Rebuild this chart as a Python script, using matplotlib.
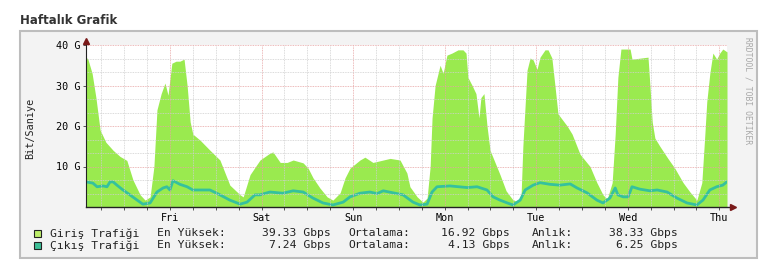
import matplotlib.pyplot as plt
from matplotlib.patches import Rectangle
from matplotlib.ticker import MultipleLocator, FixedLocator

# time axis: hours since start of the weekly window
days = ['Fri', 'Sat', 'Sun', 'Mon', 'Tue', 'Wed', 'Thu']
first_midnight = 22  # hours from start to first day boundary

# Giris (incoming) traffic, Gbps
giris_h = [0, 0.5, 1.6, 2.6, 3.7, 5.2, 7.1, 8.9, 10.7, 12.3, 14.2, 15.5, 16.8, 17.8,
           18.6, 19.7, 20.7, 21.5, 22.5, 23.6, 24.6, 25.7, 26.5, 27.3, 28.0, 29.9,
           32.5, 35.1, 37.7, 40.4, 41.2, 43.0, 45.6, 48.2, 49.0, 50.9, 52.7, 54.3,
           56.9, 58.2, 59.5, 61.3, 63.2, 64.7, 66.6, 67.9, 69.2, 71.8, 73.1, 75.2,
           77.9, 79.7, 82.3, 84.1, 84.9, 86.8, 88.3, 89.4, 90.2, 90.7, 91.5, 92.8,
           93.6, 94.6, 95.9, 97.5, 98.8, 99.6, 100.1, 101.2, 102.2, 103.0, 103.5,
           104.3, 105.1, 105.9, 107.2, 108.5, 110.1, 111.7, 113.0, 114.0, 114.5,
           115.6, 116.4, 117.2, 118.2, 119.0, 120.3, 121.1, 122.1, 122.9, 123.7,
           126.1, 127.4, 129.5, 132.1, 133.9, 135.5, 136.6, 137.9, 138.7, 139.4,
           140.2, 142.6, 143.1, 147.3, 147.8, 148.4, 149.1, 150.4, 152.5, 154.3,
           156.5, 158.3, 160.1, 161.4, 162.2, 162.7, 163.5, 164.3, 165.3, 166.1,
           166.9, 168.0]
giris_g = [37, 36.5, 33, 27, 19, 16, 14, 12.5, 11.5, 6.7, 3, 1.7, 2.5, 10,
           24, 28, 30.6, 27.6, 35.5, 36, 36, 36.5, 30, 21, 18, 16.5,
           14, 11.6, 5.4, 3, 2.5, 8, 11.6, 13.3, 13.6, 11, 11, 11.6,
           10.9, 9.6, 7.2, 4.7, 2.5, 1.7, 3.5, 7.2, 9.6, 11.6, 12.3, 11,
           11.6, 12, 11.6, 8.4, 5, 2.5, 1.2, 2.2, 10, 22, 30, 35,
           33, 37.5, 38, 38.8, 38.8, 38, 32, 30, 28, 22, 27,
           28, 20, 14, 11, 8, 4, 2, 1.2, 2, 15,
           33.8, 36.8, 36.3, 34, 37, 38.8, 38.8, 36.8, 30, 23,
           20, 18, 13, 10, 6, 3, 2, 6, 18, 32,
           39, 39, 36.5, 37, 30, 21, 17, 15, 12, 9.6,
           6, 3.7, 1.7, 6, 18, 26, 33, 38, 36.5, 38,
           39, 38.3]

# Cikis (outgoing) traffic, Gbps
cikis_h = [0, 1.8, 2.9, 4.5, 5.5, 6.3, 7.1, 8.1, 9.7, 11.5, 13.4, 14.9, 16.8, 17.6,
           18.6, 20.2, 21.2, 22.0, 22.8, 24.6, 26.5, 28.0, 32.5, 35.1, 37.7, 40.4,
           42.2, 44.3, 45.6, 48.2, 51.6, 54.3, 56.9, 59.5, 62.1, 64.7, 67.4, 69.2,
           71.8, 74.4, 76.3, 77.9, 80.5, 83.1, 85.7, 87.5, 89.4, 90.7, 92.0, 95.4,
           99.9, 102.5, 105.1, 106.7, 108.5, 110.4, 111.9, 113.8, 115.1, 117.2,
           119.0, 121.6, 124.2, 126.9, 128.7, 131.3, 133.9, 135.5, 137.3, 138.7,
           139.4, 140.8, 142.1, 143.1, 145.2, 147.8, 149.7, 152.3, 154.9, 157.5,
           160.1, 161.7, 163.5, 165.3, 166.9, 168.0]
cikis_g = [6.2, 5.9, 5.0, 5.2, 5.0, 6.2, 6.2, 5.4, 4.2, 3.0, 1.7, 0.7, 1.0, 2.2,
           3.7, 4.7, 5.0, 4.2, 6.5, 5.6, 5.0, 4.2, 4.2, 3.0, 1.7, 0.7,
           1.2, 3.0, 3.0, 3.7, 3.4, 4.0, 3.7, 2.2, 1.0, 0.5, 1.2, 2.5,
           3.4, 3.7, 3.3, 4.0, 3.5, 3.0, 1.2, 0.5, 0.7, 3.7, 5.0, 5.2,
           4.8, 5.0, 4.2, 2.5, 1.7, 1.0, 0.5, 1.7, 4.2, 5.4,
           6.0, 5.6, 5.4, 5.7, 4.7, 3.5, 1.7, 1.0, 2.2, 4.7,
           3.0, 2.5, 2.5, 5.0, 4.4, 4.0, 4.2, 3.7, 2.2, 1.0,
           0.5, 1.7, 4.2, 5.0, 5.4, 6.25]

series_names = ['Giriş Trafiği', 'Çıkış Trafiği']
max_vals = [39.33, 7.24]
avg_vals = [16.92, 4.13]
cur_vals = [38.33, 6.25]

area_color = '#9AEA4F'
line_color = '#35C19E'
box_colors = ['#BDEE6A', '#3DBF97']
mono = 'DejaVu Sans Mono'

W, H = 770, 275
fig = plt.figure(figsize=(W / 100, H / 100), dpi=100)


def fx(px):
    return px / W


def fy(py):
    return 1 - py / H


fig.text(fx(20), fy(20), 'Haftalık Grafik', fontsize=8.5, fontweight='bold',
         color='#333333', va='center', ha='left')
panel = Rectangle((fx(20), fy(258)), fx(757) - fx(20), fy(31) - fy(258),
                  transform=fig.transFigure, facecolor='#F3F3F3',
                  edgecolor='#BDBDBD', lw=1.5, zorder=-5)
fig.patches.append(panel)

ax = fig.add_axes([fx(86), fy(207), fx(727) - fx(86), fy(45) - fy(207)])
ax.set_zorder(1)
ax.set_facecolor('white')
ax.set_xlim(0, 168)
ax.set_ylim(0, 40)

ax.fill_between(giris_h, giris_g, color=area_color, lw=0, zorder=1)
ax.plot(cikis_h, cikis_g, color=line_color, lw=2, zorder=2)

# grid
ax.xaxis.set_major_locator(FixedLocator([first_midnight + 24 * i for i in range(len(days))]))
ax.xaxis.set_minor_locator(MultipleLocator(6, offset=first_midnight % 6))
ax.yaxis.set_major_locator(FixedLocator([10, 20, 30, 40]))
ax.yaxis.set_minor_locator(MultipleLocator(10 / 3))
ax.grid(which='minor', color='#CFCFCF', ls=(0, (1, 1)), lw=0.6, zorder=3)
ax.grid(which='major', color='#E7A3A3', ls=(0, (1, 1)), lw=0.6, zorder=3)
ax.set_axisbelow(False)

ax.set_xticklabels(days, fontfamily=mono, fontsize=7.3)
ax.set_yticklabels([f'{v} G' for v in [10, 20, 30, 40]], fontfamily=mono, fontsize=7.3)
ax.tick_params(which='both', length=2, width=0.7, color='#555555', pad=2)
ax.tick_params(axis='y', which='minor', length=0)
ax.tick_params(axis='x', which='minor', length=2)

for s in ax.spines.values():
    s.set_visible(False)

# axes with arrows
ax.plot([0, 1.008], [0, 0], transform=ax.transAxes, color='#222222', lw=1, clip_on=False, zorder=5)
ax.plot([1.01], [0], marker='>', ms=4, color='#7A1A1A', transform=ax.transAxes, clip_on=False, zorder=6)
ax.plot([0, 0], [0, 1.02], transform=ax.transAxes, color='#222222', lw=0.8, clip_on=False, zorder=5)
ax.plot([0], [1.025], marker='^', ms=4, color='#7A1A1A', transform=ax.transAxes, clip_on=False, zorder=6)

fig.text(fx(30), fy(128), 'Bit/Saniye', rotation=90, fontfamily=mono, fontsize=7.3,
         va='center', ha='center', color='#222222')
fig.text(fx(748), fy(37), 'RRDTOOL / TOBI OETIKER', rotation=-90, fontfamily=mono,
         fontsize=5.8, va='top', ha='center', color='#A8A8A8')

# legend rows
rows_y = [233.5, 245.5]
for i, name in enumerate(series_names):
    y = rows_y[i]
    sq = Rectangle((fx(34), fy(y + 3.5)), 7 / W, 7 / H, transform=fig.transFigure,
                   facecolor=box_colors[i], edgecolor='#222222', lw=0.8)
    fig.patches.append(sq)
    kw = dict(fontfamily=mono, fontsize=8.2, va='center', color='#222222')
    fig.text(fx(50), fy(y), name, ha='left', **kw)
    fig.text(fx(157), fy(y), 'En Yüksek:', ha='left', **kw)
    fig.text(fx(331), fy(y), f'{max_vals[i]:.2f} Gbps', ha='right', **kw)
    fig.text(fx(348), fy(y), 'Ortalama:', ha='left', **kw)
    fig.text(fx(510), fy(y), f'{avg_vals[i]:.2f} Gbps', ha='right', **kw)
    fig.text(fx(532), fy(y), 'Anlık:', ha='left', **kw)
    fig.text(fx(678), fy(y), f'{cur_vals[i]:.2f} Gbps', ha='right', **kw)

fig.savefig('out.png', dpi=100)
